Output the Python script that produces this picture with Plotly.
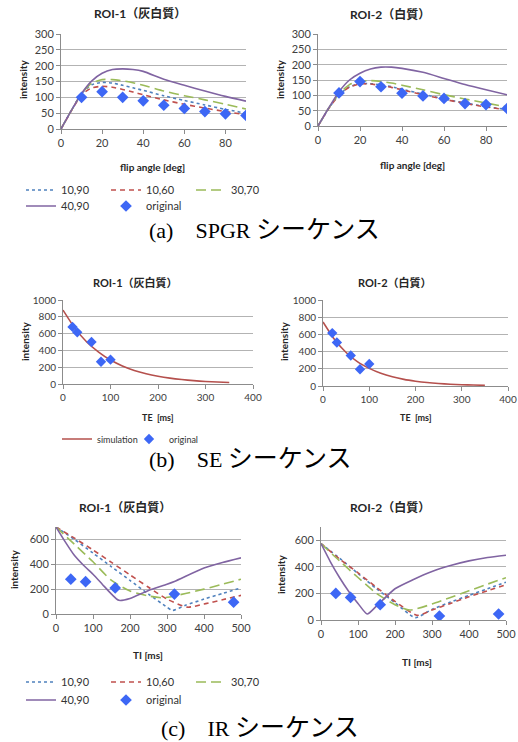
import plotly.graph_objects as go

W, H = 518, 742

# ---------------- DATA ----------------
# (a) SPGR
FA_SIM = [0, 5, 10, 15, 20, 25, 30, 35, 40, 50, 60, 70, 80, 90]
FA_ORIG = [10, 20, 30, 40, 50, 60, 70, 80, 90]
spgr1_1090 = [0, 58, 112, 140, 147, 145, 138, 130, 122, 105, 90, 76, 62, 50]
spgr1_1060 = [0, 57, 108, 130, 135, 132, 125, 117, 108, 92, 78, 66, 55, 45]
spgr1_3070 = [0, 58, 112, 145, 156, 156, 152, 146, 138, 120, 105, 92, 78, 63]
spgr1_4090 = [0, 58, 112, 152, 176, 188, 190, 188, 182, 157, 138, 120, 103, 88]
spgr1_orig = [100, 118, 100, 89, 75, 65, 55, 48, 43]
spgr2_1090 = [0, 56, 102, 128, 138, 138, 134, 128, 120, 104, 88, 75, 63, 54]
spgr2_1060 = [0, 56, 101, 127, 137, 137, 132, 126, 118, 102, 87, 74, 62, 53]
spgr2_3070 = [0, 57, 105, 135, 146, 148, 145, 140, 133, 118, 102, 88, 75, 62]
spgr2_4090 = [0, 58, 112, 150, 172, 186, 192, 192, 188, 175, 155, 135, 118, 102]
spgr2_orig = [108, 145, 128, 107, 98, 90, 73, 70, 57]

# (b) SE
TE_SIM = [0, 25, 50, 75, 100, 125, 150, 175, 200, 225, 250, 275, 300, 325, 350]
TE_ORIG = [20, 30, 60, 80, 100]
se1_sim = [880, 665, 500, 380, 285, 215, 162, 123, 93, 70, 53, 40, 30, 23, 17]
se1_orig = [680, 615, 500, 265, 290]
se2_sim = [745, 540, 390, 280, 205, 148, 107, 77, 56, 40, 29, 21, 15, 11, 8]
se2_orig = [615, 505, 355, 195, 255]

# (c) IR
TI_ORIG = [40, 80, 160, 320, 480]
ir1_1090_ti = [0, 50, 100, 150, 200, 250, 300, 315, 350, 400, 450, 500]
ir1_1090 = [700, 600, 490, 380, 270, 160, 55, 28, 70, 120, 165, 210]
ir1_1060_ti = [0, 50, 100, 150, 200, 250, 300, 355, 400, 450, 500]
ir1_1060 = [700, 610, 515, 415, 315, 215, 120, 55, 80, 115, 150]
ir1_3070_ti = [0, 50, 100, 150, 200, 250, 290, 350, 400, 450, 500]
ir1_3070 = [700, 560, 420, 270, 185, 145, 130, 165, 200, 240, 280]
ir1_4090_ti = [0, 25, 50, 75, 100, 125, 150, 170, 200, 250, 300, 320, 400, 450, 500]
ir1_4090 = [700, 580, 470, 390, 320, 240, 160, 110, 125, 190, 240, 262, 370, 415, 452]
ir1_orig = [280, 260, 210, 160, 95]
ir2_1090_ti = [0, 50, 100, 150, 200, 255, 300, 350, 400, 450, 500]
ir2_1090 = [575, 465, 350, 235, 130, 18, 80, 135, 185, 235, 285]
ir2_1060_ti = [0, 50, 100, 150, 200, 260, 300, 350, 400, 450, 500]
ir2_1060 = [575, 460, 355, 245, 140, 35, 75, 125, 175, 220, 265]
ir2_3070_ti = [0, 50, 100, 150, 200, 240, 300, 350, 400, 450, 500]
ir2_3070 = [575, 445, 320, 200, 115, 75, 120, 170, 220, 270, 318]
ir2_4090_ti = [0, 25, 50, 75, 100, 125, 150, 200, 250, 300, 350, 400, 450, 500]
ir2_4090 = [575, 440, 320, 215, 125, 45, 105, 235, 305, 365, 410, 445, 470, 488]
ir2_orig = [200, 170, 115, 30, 45]

ROI1_TITLE = "ROI-1（灰白質）"
ROI2_TITLE = "ROI-2（白質）"
CAPTIONS = ["(a)\u3000SPGR <span style='font-size:25px'>シーケンス</span>",
            "(b)\u3000SE <span style='font-size:25px'>シーケンス</span>",
            "(c)\u3000IR <span style='font-size:25px'>シーケンス</span>"]

# ---------------- STYLE ----------------
C_BLUE = "#4F81BD"
C_RED = "#C0504D"
C_GREEN = "#9BBB59"
C_PURPLE = "#8064A2"
C_DIAM = "#3D67F5"
C_SIM = "#B5504D"
GRID = "#B3B3B3"
SANS = "Lato, Noto Sans CJK JP"
TICKF = dict(family=SANS, size=11, color="#404040")
DASH_RED = "5px,4px"
DASH_GREEN = "10px,5px"


def px_x(p):
    return p / W


def px_y(p):
    return 1 - p / H


fig = go.Figure()

# panel definitions: (x0px, x1px, y_top_px, y_bottom_px)
panels = {
    1: (61, 246, 34, 129),
    2: (318, 507, 34, 126),
    3: (63, 253, 300, 384),
    4: (323, 508, 300, 386),
    5: (56, 241, 527, 614),
    6: (321, 506, 527, 620),
}
xr = {1: [0, 90], 2: [0, 90], 3: [0, 400], 4: [0, 400], 5: [0, 500], 6: [0, 500]}
xd = {1: 20, 2: 20, 3: 100, 4: 100, 5: 100, 6: 100}
yr = {1: [0, 300], 2: [0, 300], 3: [0, 1000], 4: [0, 1000], 5: [0, 700], 6: [0, 700]}
yd = {1: 50, 2: 50, 3: 200, 4: 200, 5: 200, 6: 200}

layout = {}
for i, (x0, x1, yt, yb) in panels.items():
    sx = "" if i == 1 else str(i)
    tf = dict(TICKF)
    if i in (3, 4):
        tf["size"] = 10
    layout["xaxis" + sx] = dict(
        domain=[px_x(x0), px_x(x1)], range=xr[i], dtick=xd[i], anchor="y" + sx,
        showgrid=False, showline=True, linecolor="#8C8C8C", linewidth=1,
        ticks="outside", ticklen=4, tickcolor="#8C8C8C", tickfont=tf,
        zeroline=False, automargin=False, fixedrange=True)
    layout["yaxis" + sx] = dict(
        domain=[px_y(yb), px_y(yt)], range=yr[i], dtick=yd[i], anchor="x" + sx,
        showgrid=True, gridcolor=GRID, gridwidth=1, showline=True,
        linecolor="#8C8C8C", linewidth=1, ticks="outside", ticklen=4,
        tickcolor="#8C8C8C", tickfont=tf, zeroline=False, automargin=False,
        fixedrange=True)


def add_line(x, y, i, name, color, dash, legend, show):
    sx = "" if i == 1 else str(i)
    fig.add_trace(go.Scatter(x=x, y=y, mode="lines", name=name,
                             line=dict(color=color, width=1.6, dash=dash, shape="spline", smoothing=0.6),
                             xaxis="x" + sx, yaxis="y" + sx,
                             legend=legend, showlegend=show))


def add_pts(x, y, i, name, legend, show, size=9):
    sx = "" if i == 1 else str(i)
    fig.add_trace(go.Scatter(x=x, y=y, mode="markers", name=name,
                             marker=dict(symbol="diamond", color=C_DIAM, size=size),
                             xaxis="x" + sx, yaxis="y" + sx,
                             legend=legend, showlegend=show))


# (a)
for i, (a, b, c, d, o) in {1: (spgr1_1090, spgr1_1060, spgr1_3070, spgr1_4090, spgr1_orig),
                           2: (spgr2_1090, spgr2_1060, spgr2_3070, spgr2_4090, spgr2_orig)}.items():
    show = i == 1
    add_line(FA_SIM, a, i, "10,90", C_BLUE, "dot", "legend", show)
    add_line(FA_SIM, b, i, "10,60", C_RED, DASH_RED, "legend", show)
    add_line(FA_SIM, c, i, "30,70", C_GREEN, DASH_GREEN, "legend", show)
    add_line(FA_SIM, d, i, "40,90", C_PURPLE, "solid", "legend2", show)
    add_pts(FA_ORIG, o, i, "original", "legend2", show)

# (b)
add_line(TE_SIM, se1_sim, 3, "simulation", C_SIM, "solid", "legend5", True)
add_pts(TE_ORIG, se1_orig, 3, "original", "legend6", True, size=8)
add_line(TE_SIM, se2_sim, 4, "simulation", C_SIM, "solid", "legend5", False)
add_pts(TE_ORIG, se2_orig, 4, "original", "legend6", False, size=8)

# (c)
for i, data in {5: ((ir1_1090_ti, ir1_1090), (ir1_1060_ti, ir1_1060), (ir1_3070_ti, ir1_3070), (ir1_4090_ti, ir1_4090), ir1_orig),
                6: ((ir2_1090_ti, ir2_1090), (ir2_1060_ti, ir2_1060), (ir2_3070_ti, ir2_3070), (ir2_4090_ti, ir2_4090), ir2_orig)}.items():
    show = i == 5
    a, b, c, d, o = data
    add_line(a[0], a[1], i, "10,90", C_BLUE, "dot", "legend3", show)
    add_line(b[0], b[1], i, "10,60", C_RED, DASH_RED, "legend3", show)
    add_line(c[0], c[1], i, "30,70", C_GREEN, DASH_GREEN, "legend3", show)
    add_line(d[0], d[1], i, "40,90", C_PURPLE, "solid", "legend4", show)
    add_pts(TI_ORIG, o, i, "original", "legend4", show)


def leg(xp, yp, size=11, ew=40):
    return dict(x=px_x(xp), y=px_y(yp), xanchor="left", yanchor="middle",
                orientation="h", bgcolor="rgba(0,0,0,0)", borderwidth=0,
                font=dict(family=SANS, size=size, color="#333333"),
                entrywidth=ew, entrywidthmode="pixels", traceorder="normal",
                itemwidth=30, tracegroupgap=0)


layout["legend"] = leg(21, 190)
layout["legend2"] = leg(21, 206)
layout["legend3"] = leg(21, 682)
layout["legend4"] = leg(21, 700)
layout["legend5"] = leg(57, 439, size=9, ew=45)
layout["legend6"] = leg(129, 439, size=9, ew=40)

ann = []


def text(x, y, s, size=12, bold=True, angle=0, family=SANS, color="#262626", xanchor="center"):
    ann.append(dict(x=px_x(x), y=px_y(y), xref="paper", yref="paper",
                    text=("<b>%s</b>" % s) if bold else s,
                    showarrow=False, textangle=angle, xanchor=xanchor, yanchor="middle",
                    font=dict(family=family, size=size, color=color)))


text(140, 14, ROI1_TITLE, 12)
text(390, 15, ROI2_TITLE, 12)
text(135, 283, ROI1_TITLE, 11)
text(395, 283, ROI2_TITLE, 11)
text(125, 507, ROI1_TITLE, 12)
text(390, 507, ROI2_TITLE, 12)

for (x, y) in [(23, 80), (280, 80), (25, 342), (284, 342), (14, 570), (281, 575)]:
    text(x, y, "intensity", 10, angle=-90)

text(152, 167, "flip angle [deg]", 10)
text(412, 165, "flip angle [deg]", 10)
text(158, 417, "TE  [ms]", 9)
text(416, 417, "TE  [ms]", 9)
text(148, 655, "TI [ms]", 10)
text(417, 662, "TI [ms]", 10)

SERIF = "Liberation Serif, Noto Sans CJK JP"
text(147, 229, CAPTIONS[0], 22, bold=False, family=SERIF, color="#000000", xanchor="left")
text(147, 459, CAPTIONS[1], 22, bold=False, family=SERIF, color="#000000", xanchor="left")
text(159, 727, CAPTIONS[2], 22, bold=False, family=SERIF, color="#000000", xanchor="left")

layout["annotations"] = ann
fig.update_layout(**layout)
fig.update_layout(width=W, height=H, margin=dict(l=0, r=0, t=0, b=0),
                  paper_bgcolor="white", plot_bgcolor="white", autosize=False)
fig.write_html("out.html", config={"displayModeBar": False},
               post_script="document.body.style.margin='0px';")
